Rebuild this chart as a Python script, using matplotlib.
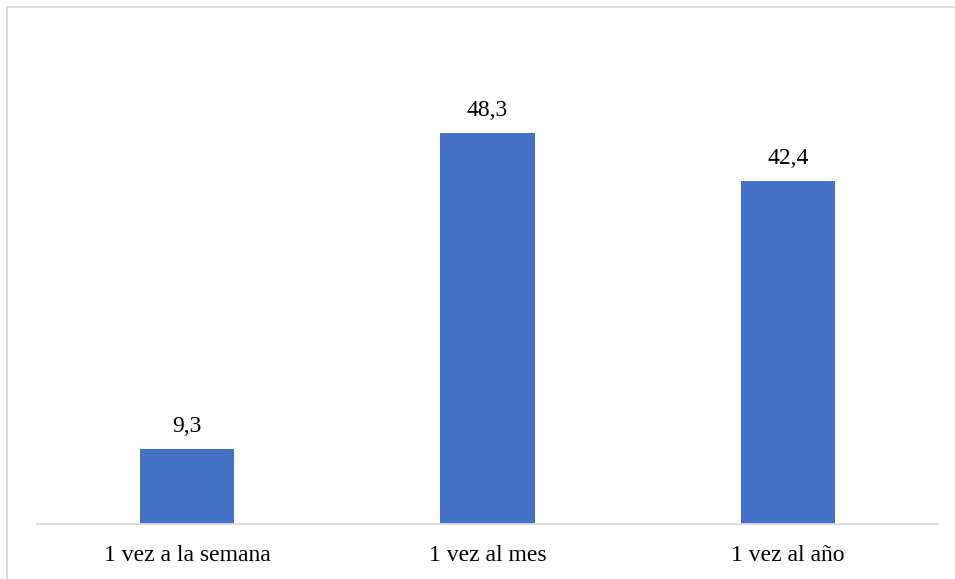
import matplotlib.pyplot as plt
from matplotlib.patches import Rectangle

categories = ["1 vez a la semana", "1 vez al mes", "1 vez al año"]
values = [9.3, 48.3, 42.4]
value_labels = ["9,3", "48,3", "42,4"]

plt.rcParams["font.family"] = ["Liberation Serif", "DejaVu Serif"]

W, H = 955, 579
fig = plt.figure(figsize=(W / 100, H / 100), dpi=100)

# marco gris del gráfico (cortado a la derecha y abajo)
fig.patches.append(Rectangle((7 / W, -0.1), 1.2, 1 - 7 / H + 0.1,
                             transform=fig.transFigure, fill=False,
                             edgecolor="#D9D9D9", linewidth=1.3))

ax = fig.add_axes([37 / W, 55 / H, (938 - 37) / W, (524 - 38) / H])
x = range(len(categories))
bars = ax.bar(x, values, width=0.313, color="#4472C4", zorder=2)

for b, lab in zip(bars, value_labels):
    ax.annotate(lab, (b.get_x() + b.get_width() / 2, b.get_height()),
                xytext=(0, 8.5), textcoords="offset points",
                ha="center", va="bottom", fontsize=17, color="black")

ax.set_xlim(-0.5, 2.5)
ax.set_ylim(0, 60)
ax.set_xticks(list(x))
ax.set_xticklabels(categories, fontsize=17)
ax.tick_params(axis="x", length=0, pad=15)
ax.set_yticks([])
for s in ["top", "right", "left"]:
    ax.spines[s].set_visible(False)
ax.spines["bottom"].set_color("#D9D9D9")
ax.spines["bottom"].set_linewidth(1.3)

fig.savefig("out.png", dpi=100)
